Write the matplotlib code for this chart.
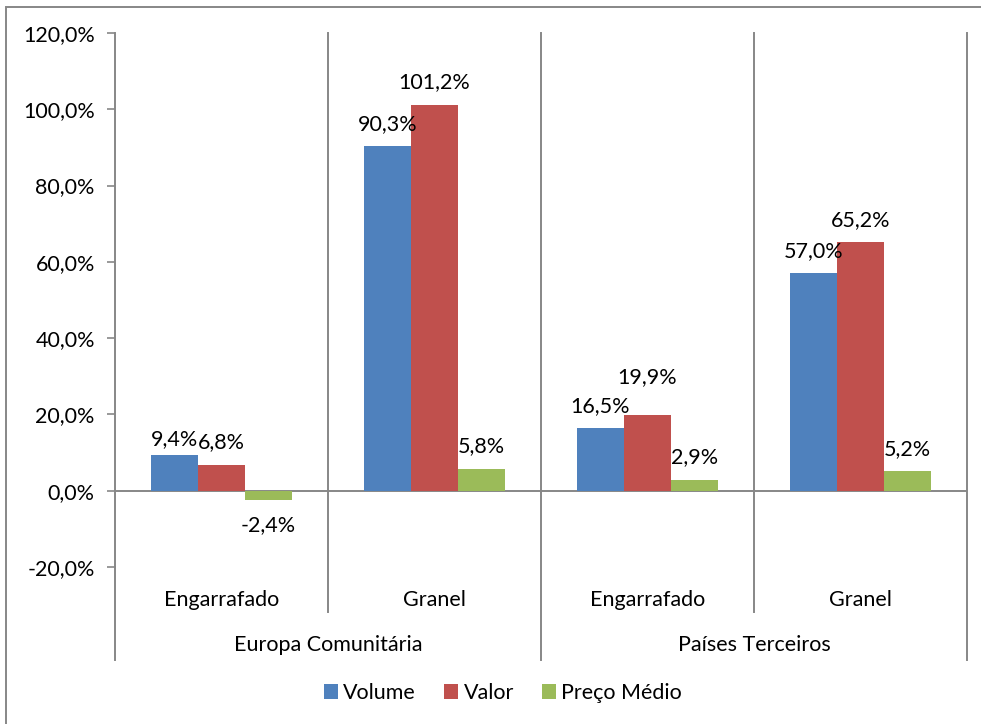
import matplotlib
matplotlib.use("Agg")
import matplotlib.pyplot as plt
from matplotlib.lines import Line2D
from matplotlib.patches import Rectangle, Patch
import numpy as np

plt.rcParams['font.family'] = ['Lato', 'DejaVu Sans']

categories = ["Engarrafado", "Granel", "Engarrafado", "Granel"]
groups = ["Europa Comunitária", "Países Terceiros"]
series = ["Volume", "Valor", "Preço Médio"]
volume = [9.4, 90.3, 16.5, 57.0]
valor = [6.8, 101.2, 19.9, 65.2]
preco = [-2.4, 5.8, 2.9, 5.2]
yticks = [-20, 0, 20, 40, 60, 80, 100, 120]

colors = ["#4F81BD", "#C0504D", "#9BBB59"]
# label offsets in pixels (style) per series/category
label_off = [[16, 22, 22, 22], [23, 23, 38, 22], [-25, 22, 23, 22]]

W, H = 981, 724
fig = plt.figure(figsize=(W / 100, H / 100), dpi=100)
ax = fig.add_axes([115 / W, (H - 567) / H, (967 - 115) / W, (567 - 33) / H])

gray = "#878787"
x = np.arange(len(categories))
bw = 47 / 213
data = [volume, valor, preco]
fs = 15.5
for i, (vals, c) in enumerate(zip(data, colors)):
    pos = x + (i - 1) * bw
    ax.bar(pos, vals, width=bw, color=c, edgecolor="none", zorder=2)
    for j, (p, v) in enumerate(zip(pos, vals)):
        off = label_off[i][j]
        ax.annotate(f"{v:.1f}%".replace(".", ","), xy=(p, v), xytext=(0, off),
                    textcoords="offset pixels", ha="center", va="center",
                    fontsize=fs, color="black", zorder=3)

ax.set_xlim(-0.5, 3.5)
ax.set_ylim(-20, 120)
ax.set_yticks(yticks)
ax.set_yticklabels([f"{t:.1f}%".replace(".", ",") for t in yticks], fontsize=fs)
ax.tick_params(axis="y", direction="out", length=5.5, width=1.2, color=gray, pad=9)
ax.set_xticks([])
for s in ["top", "right", "bottom"]:
    ax.spines[s].set_visible(False)
ax.spines["left"].set_color(gray)
ax.spines["left"].set_linewidth(1.4)
ax.axhline(0, color=gray, lw=1.4, zorder=1)

trans = ax.get_xaxis_transform()
# axis fraction for pixel rows
def yfrac(py):
    return (567 - py) / (567 - 33)

for xd, bottom in zip([-0.5, 0.5, 1.5, 2.5, 3.5], [660, 612, 660, 612, 660]):
    top = 33 if xd > -0.5 else 567
    ax.add_line(Line2D([xd, xd], [yfrac(bottom), yfrac(top)], transform=trans,
                       color=gray, lw=1.4, clip_on=False, zorder=1))

for xi, cat in zip(x, categories):
    ax.text(xi, yfrac(600), cat, transform=trans, ha="center", va="center", fontsize=fs)
for gi, g in enumerate(groups):
    ax.text(2 * gi + 0.5, yfrac(645), g, transform=trans, ha="center", va="center", fontsize=fs)

handles = [Patch(facecolor=c, edgecolor="none") for c in colors]
fig.legend(handles, series, loc="center", bbox_to_anchor=(503 / W, (H - 693) / H),
           ncol=3, frameon=False, fontsize=fs, handlelength=0.65, handleheight=0.65,
           handletextpad=0.25, columnspacing=1.3)

fig.patches.append(Rectangle((6 / W, -0.1), 1.1, (H - 7) / H + 0.1, transform=fig.transFigure,
                             fill=False, edgecolor=gray, lw=1.4))

fig.savefig("out.png", dpi=100)
